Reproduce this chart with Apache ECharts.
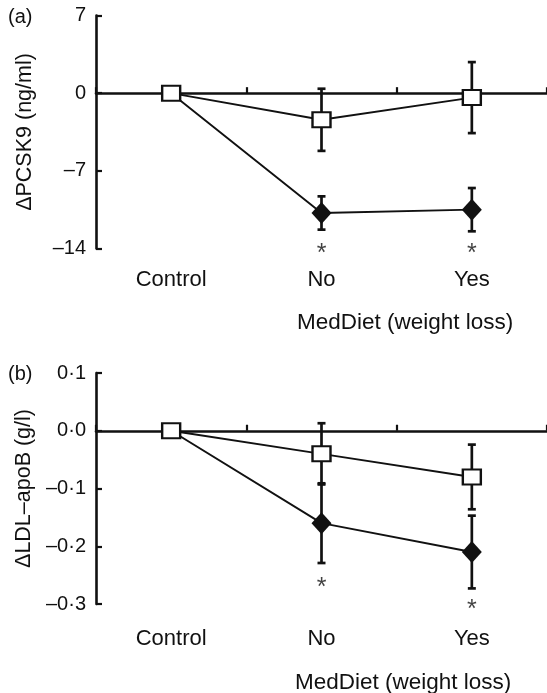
<!DOCTYPE html>
<html>
<head>
<meta charset="utf-8">
<script src="https://cdn.jsdelivr.net/npm/echarts@6/dist/echarts.min.js"></script>
<style>
html,body{margin:0;padding:0;background:#fff;}
#chart{width:547px;height:693px;}
</style>
</head>
<body>
<div id="chart"></div>
<script>
// ---- data ----
const categories = ['Control', 'No', 'Yes'];

// Panel (a): ΔPCSK9 (ng/ml)
const pcsk9Ticks = [-14, -7, 0, 7];
const pcsk9Open = [0, -2.4, -0.4];
const pcsk9OpenErr = [0, 2.8, 3.2];
const pcsk9Filled = [0, -10.8, -10.5];
const pcsk9FilledErr = [0, 1.5, 1.95];
const pcsk9Stars = [null, -14.0, -14.0];

// Panel (b): ΔLDL–apoB (g/l)
const apoBTicks = [-0.3, -0.2, -0.1, 0.0, 0.1];
const apoBOpen = [0, -0.04, -0.08];
const apoBOpenErr = [0, 0.053, 0.056];
const apoBFilled = [0, -0.16, -0.21];
const apoBFilledErr = [0, 0.069, 0.063];
const apoBStars = [null, -0.262, -0.3];

// ---- helpers ----
const FONT = '"Liberation Sans", Arial, Helvetica, sans-serif';
const INK = '#111';

function errData(means, errs) {
  const out = [];
  means.forEach((m, i) => {
    if (errs[i] > 0) out.push([categories[i], m - errs[i], m + errs[i]]);
  });
  return out;
}
function errRender(params, api) {
  const x = api.value(0);
  const lo = api.coord([x, api.value(1)]);
  const hi = api.coord([x, api.value(2)]);
  const w = 4;
  const st = { stroke: INK, lineWidth: 2.7 };
  return {
    type: 'group',
    children: [
      { type: 'line', shape: { x1: hi[0], y1: hi[1], x2: lo[0], y2: lo[1] }, style: st },
      { type: 'line', shape: { x1: hi[0] - w, y1: hi[1], x2: hi[0] + w, y2: hi[1] }, style: st },
      { type: 'line', shape: { x1: lo[0] - w, y1: lo[1], x2: lo[0] + w, y2: lo[1] }, style: st }
    ]
  };
}
function starData(stars) {
  const out = [];
  stars.forEach((s, i) => { if (s !== null) out.push([categories[i], s]); });
  return out;
}
function fmtA(v) { return String(v).replace('-', '\u2013'); }
function fmtB(v) { return v.toFixed(1).replace('-', '\u2013').replace('.', '\u00b7'); }

function panelAxes(gridIndex, ticks, fmt, name, labelMargin) {
  const min = ticks[0], max = ticks[ticks.length - 1];
  const interval = Math.round((ticks[1] - ticks[0]) * 1000) / 1000;
  return {
    x: [
      {
        gridIndex, type: 'category', data: categories, position: 'bottom', boundaryGap: true,
        axisLine: { show: true, onZero: true, lineStyle: { color: INK, width: 2.6 } },
        axisTick: { show: true, inside: true, length: 6, lineStyle: { color: INK, width: 2.2 } },
        axisLabel: { show: false }, splitLine: { show: false }
      },
      {
        gridIndex, type: 'category', data: categories, position: 'bottom', boundaryGap: true,
        axisLine: { show: false, onZero: false }, axisTick: { show: false },
        axisLabel: { show: true, margin: labelMargin, color: INK, fontSize: 22, fontFamily: FONT },
        splitLine: { show: false }
      }
    ],
    y: {
      gridIndex, type: 'value', min, max, interval,
      name, nameLocation: 'middle', nameGap: 60,
      nameTextStyle: { color: INK, fontSize: 21.5, fontFamily: FONT },
      axisLine: { show: true, onZero: false, lineStyle: { color: INK, width: 2.6 } },
      axisTick: { show: true, inside: true, length: 6, lineStyle: { color: INK, width: 2.2 } },
      axisLabel: { show: true, margin: 10, color: INK, fontSize: 20, fontFamily: FONT, formatter: fmt },
      splitLine: { show: false }
    }
  };
}

function panelSeries(xIdx, yIdx, open, openErr, filled, filledErr, stars) {
  return [
    {
      type: 'custom', xAxisIndex: xIdx, yAxisIndex: yIdx, renderItem: errRender,
      encode: { x: 0, y: [1, 2] }, data: errData(filled, filledErr), z: 1, silent: true
    },
    {
      type: 'custom', xAxisIndex: xIdx, yAxisIndex: yIdx, renderItem: errRender,
      encode: { x: 0, y: [1, 2] }, data: errData(open, openErr), z: 1, silent: true
    },
    {
      type: 'line', xAxisIndex: xIdx, yAxisIndex: yIdx, z: 2,
      data: filled.map((v, i) => categories[i] === 'Control' ? { value: v, symbol: 'none' } : v),
      symbol: 'diamond', symbolSize: [20, 22],
      lineStyle: { color: INK, width: 1.9 },
      itemStyle: { color: INK, borderWidth: 0 },
      silent: true
    },
    {
      type: 'line', xAxisIndex: xIdx, yAxisIndex: yIdx, z: 3,
      data: open, symbol: 'rect', symbolSize: [18, 15],
      lineStyle: { color: INK, width: 1.9 },
      itemStyle: { color: '#fff', borderColor: INK, borderWidth: 2.2 },
      silent: true
    },
    {
      type: 'scatter', xAxisIndex: xIdx, yAxisIndex: yIdx, z: 4,
      data: starData(stars), symbol: 'circle', symbolSize: 1,
      itemStyle: { color: 'rgba(255,255,255,0)' },
      label: { show: true, position: 'inside', formatter: '*', color: INK, fontSize: 25, fontFamily: FONT, offset: [0, 6] },
      silent: true
    }
  ];
}

const axA = panelAxes(0, pcsk9Ticks, fmtA, '\u0394PCSK9 (ng/ml)', 20);
const axB = panelAxes(1, apoBTicks, fmtB, '\u0394LDL\u2013apoB (g/l)', 24);

const option = {
  backgroundColor: '#fff',
  animation: false,
  textStyle: { fontFamily: FONT },
  title: [
    { text: '(a)', left: 8, top: 7, padding: 0, textStyle: { fontSize: 20, fontWeight: 'normal', color: INK, fontFamily: FONT } },
    { text: '(b)', left: 8, top: 364, padding: 0, textStyle: { fontSize: 20, fontWeight: 'normal', color: INK, fontFamily: FONT } },
    { text: 'MedDiet (weight loss)', left: 297, top: 311, padding: 0, textStyle: { fontSize: 22.5, fontWeight: 'normal', color: INK, fontFamily: FONT } },
    { text: 'MedDiet (weight loss)', left: 295, top: 671, padding: 0, textStyle: { fontSize: 22.5, fontWeight: 'normal', color: INK, fontFamily: FONT } }
  ],
  grid: [
    { left: 96, right: 0, top: 15.5, bottom: 444.5, containLabel: false, outerBoundsMode: 'none' },
    { left: 96, right: 0, top: 373, bottom: 89, containLabel: false, outerBoundsMode: 'none' }
  ],
  xAxis: [axA.x[0], axA.x[1], axB.x[0], axB.x[1]],
  yAxis: [axA.y, axB.y],
  series: [].concat(
    panelSeries(0, 0, pcsk9Open, pcsk9OpenErr, pcsk9Filled, pcsk9FilledErr, pcsk9Stars),
    panelSeries(2, 1, apoBOpen, apoBOpenErr, apoBFilled, apoBFilledErr, apoBStars)
  )
};

const chart = echarts.init(document.getElementById('chart'), null, { renderer: 'canvas' });
chart.setOption(option);
</script>
</body>
</html>
